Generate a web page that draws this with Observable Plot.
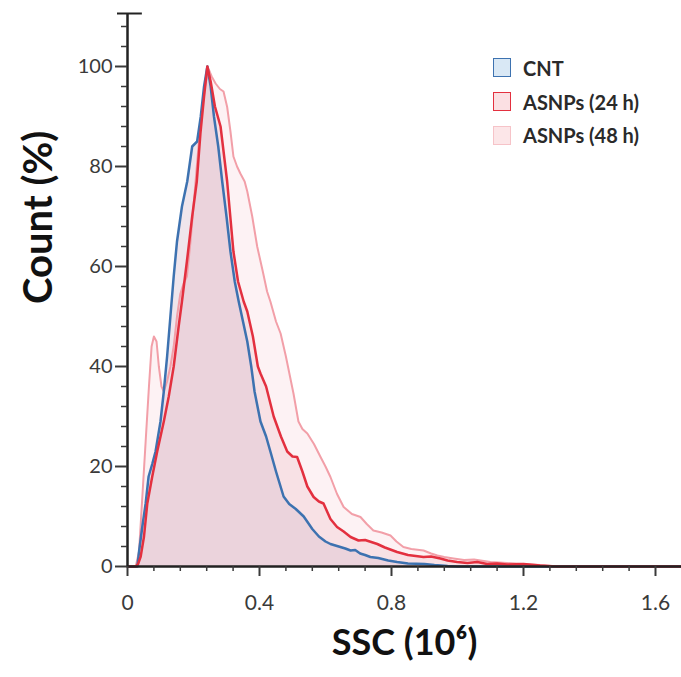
<!DOCTYPE html>
<html><head><meta charset="utf-8">
<script src="https://cdn.jsdelivr.net/npm/d3@7"></script>
<script src="https://cdn.jsdelivr.net/npm/@observablehq/plot@0.6"></script>
<style>
body{margin:0;background:#fff;}
#wrap{position:relative;width:681px;height:677px;}
.legend{position:absolute;left:493px;top:51px;font-family:Lato,sans-serif;font-weight:bold;font-size:20px;color:#2a2a2a;}
.legend .row{display:flex;align-items:center;height:33.7px;}
.legend .sw{width:16px;height:17px;border:1.5px solid;margin-right:12px;box-sizing:content-box;}
</style></head><body><div id="wrap"></div>
<script>
const seriesNames = ["CNT", "ASNPs (24 h)", "ASNPs (48 h)"];
const lineColors = ["#3d72b0", "#e3303f", "#f29fa8"];
const fillColors = ["#d7bfcf", "#f0bec6", "#fae1e5"];

const cntX = [0,0.03,0.035,0.045,0.055,0.064,0.075,0.085,0.10,0.11,0.12,0.13,0.14,0.15,0.165,0.181,0.196,0.211,0.222,0.232,0.242,0.252,0.262,0.275,0.287,0.30,0.312,0.325,0.337,0.35,0.363,0.375,0.385,0.403,0.42,0.433,0.45,0.473,0.49,0.51,0.534,0.56,0.58,0.60,0.615,0.64,0.66,0.676,0.69,0.705,0.72,0.736,0.76,0.79,0.817,0.85,0.90,0.93,0.97,1.0,1.6788];
const cntY = [0,0,3,8,12.6,18,20.5,23,29,35,42,50,58,65,72,77,84,85,90,96,100,96,90,84,77,70,63,57,53,49,45,40,35,29,26,23,19,14,12.5,11.5,10,7.5,6,5,4.5,4,3.6,3.2,3.3,2.6,2.3,1.9,1.7,1.2,0.9,0.6,0.5,0.3,0.1,0,0];

const h24X = [0,0.025,0.032,0.04,0.05,0.06,0.075,0.09,0.11,0.125,0.14,0.155,0.165,0.18,0.196,0.21,0.221,0.232,0.242,0.252,0.265,0.282,0.302,0.321,0.335,0.352,0.363,0.38,0.395,0.403,0.42,0.443,0.465,0.484,0.50,0.514,0.53,0.545,0.564,0.58,0.594,0.615,0.635,0.655,0.676,0.70,0.72,0.757,0.78,0.817,0.85,0.897,0.92,0.948,0.97,0.999,1.03,1.06,1.09,1.12,1.15,1.2,1.25,1.3,1.6788];
const h24Y = [0,0,0.5,2,6,12.6,18,23,29,34,40,48,53,61,70,77,86.6,94,100,97,92,88,77,63,57,53,51,46,40,38.6,36,30,26,23,22,21.9,19,16,13.9,13,12.6,9.5,7.9,7,5.9,5.2,5.3,4.5,3.8,2.9,2.3,1.9,2.0,1.6,1.2,0.9,0.7,0.9,0.5,0.6,0.4,0.5,0.2,0,0];

const h48X = [0,0.025,0.035,0.045,0.055,0.065,0.073,0.08,0.088,0.095,0.103,0.11,0.12,0.13,0.14,0.15,0.16,0.17,0.18,0.191,0.20,0.21,0.221,0.235,0.245,0.255,0.267,0.28,0.291,0.302,0.312,0.321,0.332,0.342,0.355,0.363,0.378,0.393,0.41,0.423,0.433,0.45,0.464,0.48,0.503,0.518,0.53,0.545,0.565,0.585,0.60,0.615,0.635,0.655,0.68,0.706,0.725,0.745,0.77,0.797,0.815,0.836,0.86,0.897,0.92,0.939,0.96,0.988,1.02,1.05,1.07,1.1,1.15,1.2,1.25,1.3,1.6788];
const h48Y = [0,0,3,14,25,36,44,46,45,40,36,35,37,40,44,50,54.5,56.6,58,65,72,80,88.5,96,99.6,98,96.6,95.5,95,91.9,87,82,80,78.6,77,75,70,64,59,55,53,49,46.6,42,34.6,29,27.5,26.6,24.5,21.9,20,17.9,14.5,11.9,10.5,9.9,8.5,7.2,6.8,6.2,5,3.9,3.5,3.2,2.6,2.2,1.9,1.6,1.3,1.4,1.2,0.9,0.7,0.5,0.3,0,0];

const xMajor = [0, 0.4, 0.8, 1.2, 1.6];
const xMinor = [0.08,0.16,0.24,0.32,0.48,0.56,0.64,0.72,0.88,0.96,1.04,1.12,1.28,1.36,1.44,1.52];
const yMajor = [0, 20, 40, 60, 80, 100];
const yMinor = [4,8,12,16,24,28,32,36,44,48,52,56,64,68,72,76,84,88,92,96,104,108];
const xLabel = "SSC (10⁶)";
const yLabel = "Count (%)";

const toRows = (xs, ys) => xs.map((x, i) => ({x, y: ys[i]}));
const cnt = toRows(cntX, cntY), h24 = toRows(h24X, h24Y), h48 = toRows(h48X, h48Y);
const yTop = 110.6;
const capEnd = 0.045;

const plot = Plot.plot({
  width: 681, height: 677,
  marginLeft: 127, marginRight: 0, marginTop: 13, marginBottom: 111,
  x: {domain: [0, 1.6788]},
  y: {domain: [0, yTop]},
  style: {fontFamily: "Lato, sans-serif", background: "white"},
  marks: [
    Plot.areaY(h48, {x: "x", y: "y", fill: fillColors[2], fillOpacity: 0.42}),
    Plot.areaY(h24, {x: "x", y: "y", fill: fillColors[1], fillOpacity: 0.32}),
    Plot.areaY(cnt, {x: "x", y: "y", fill: fillColors[0], fillOpacity: 0.4}),
    Plot.lineY(h48, {x: "x", y: "y", stroke: lineColors[2], strokeWidth: 2}),
    Plot.lineY(cnt, {x: "x", y: "y", stroke: lineColors[0], strokeWidth: 2.5}),
    Plot.lineY(h24, {x: "x", y: "y", stroke: lineColors[1], strokeWidth: 2.5}),
    Plot.ruleX([0], {stroke: "#222", strokeWidth: 2.5}),
    Plot.ruleY([0], {stroke: "#222", strokeWidth: 2.5}),
    Plot.ruleY([yTop], {x1: 0, x2: capEnd, stroke: "#222", strokeWidth: 2}),
    Plot.axisY({ticks: yMajor, tickSize: 12, tickPadding: 3, fontSize: 20, label: null, color: "#3a3a3a", strokeWidth: 2, tickFormat: d => d}),
    Plot.axisY({ticks: yMinor, tickSize: 6, text: null, label: null, color: "#3a3a3a", strokeWidth: 1.5}),
    Plot.axisY({ticks: [yTop], tickSize: 10, text: null, label: null, color: "#222", strokeWidth: 2}),
    Plot.axisX({ticks: xMajor, tickSize: 10, tickPadding: 19, fontSize: 21, label: null, color: "#3a3a3a", strokeWidth: 2, tickFormat: d => String(d)}),
    Plot.axisX({ticks: xMinor, tickSize: 5, text: null, label: null, color: "#3a3a3a", strokeWidth: 1.5}),
    Plot.text([yLabel], {frameAnchor: "left", rotate: -90, dx: -88, dy: 14, fontSize: 40, fontWeight: "bold", fill: "#111"}),
    Plot.text([xLabel], {frameAnchor: "bottom", dy: 88, fontSize: 36, fontWeight: "bold", fill: "#111"})
  ]
});
const wrap = document.getElementById("wrap");
wrap.appendChild(plot);
const leg = document.createElement("div");
leg.className = "legend";
seriesNames.forEach((n, i) => {
  const r = document.createElement("div"); r.className = "row";
  const s = document.createElement("div"); s.className = "sw";
  s.style.borderColor = i === 2 ? "#f6c3c8" : lineColors[i];
  s.style.background = i === 0 ? "#d9e8f5" : (i === 1 ? "#fbe0e3" : "#fce6e8");
  const t = document.createElement("span"); t.textContent = n;
  r.appendChild(s); r.appendChild(t); leg.appendChild(r);
});
wrap.appendChild(leg);
</script></body></html>
